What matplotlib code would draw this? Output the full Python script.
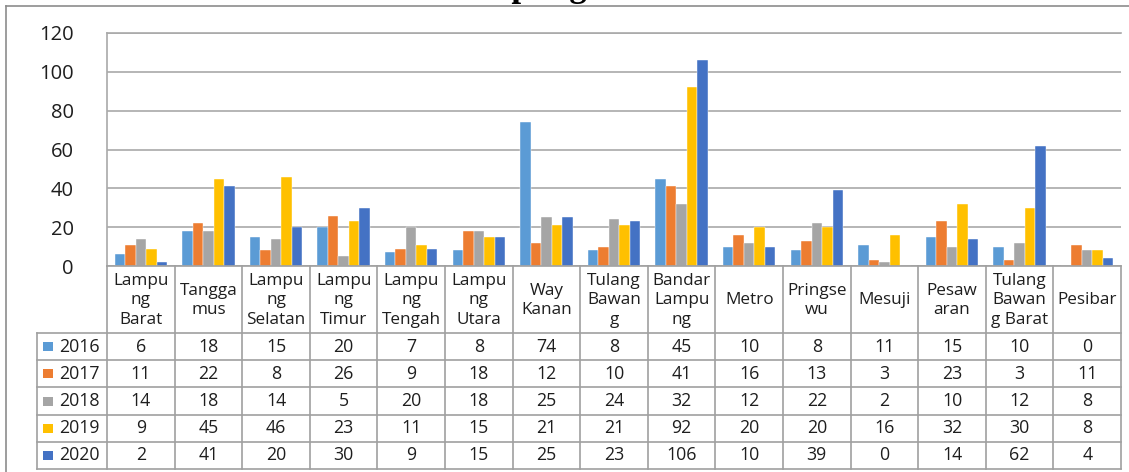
import matplotlib
matplotlib.use("Agg")
import matplotlib.pyplot as plt
from matplotlib.patches import Rectangle
from matplotlib.lines import Line2D

# --- data -----------------------------------------------------------------
regions = ["Lampung Barat", "Tanggamus", "Lampung Selatan", "Lampung Timur",
           "Lampung Tengah", "Lampung Utara", "Way Kanan", "Tulang Bawang",
           "Bandar Lampung", "Metro", "Pringsewu", "Mesuji", "Pesawaran",
           "Tulang Bawang Barat", "Pesibar"]
region_labels = ["Lampu\nng\nBarat", "Tangga\nmus", "Lampu\nng\nSelatan",
                 "Lampu\nng\nTimur", "Lampu\nng\nTengah", "Lampu\nng\nUtara",
                 "Way\nKanan", "Tulang\nBawan\ng", "Bandar\nLampu\nng", "Metro",
                 "Pringse\nwu", "Mesuji", "Pesaw\naran", "Tulang\nBawan\ng Barat",
                 "Pesibar"]
years = ["2016", "2017", "2018", "2019", "2020"]
v2016 = [6, 18, 15, 20, 7, 8, 74, 8, 45, 10, 8, 11, 15, 10, 0]
v2017 = [11, 22, 8, 26, 9, 18, 12, 10, 41, 16, 13, 3, 23, 3, 11]
v2018 = [14, 18, 14, 5, 20, 18, 25, 24, 32, 12, 22, 2, 10, 12, 8]
v2019 = [9, 45, 46, 23, 11, 15, 21, 21, 92, 20, 20, 16, 32, 30, 8]
v2020 = [2, 41, 20, 30, 9, 15, 25, 23, 106, 10, 39, 0, 14, 62, 4]
series = [v2016, v2017, v2018, v2019, v2020]
colors = ["#5B9BD5", "#ED7D31", "#A5A5A5", "#FFC000", "#4472C4"]
yticks = [0, 20, 40, 60, 80, 100, 120]
title = "Lampung"

# --- layout (pixels) --------------------------------------------------------
W, H, DPI = 1129, 472, 100
FONT = "Open Sans"
TXT = "#1E1E1E"
plot_left, plot_right = 107, 1121
plot_top, plot_bottom = 33, 266
table_left, table_bottom = 37, 469
header_h = 67
row_h = (table_bottom - plot_bottom - header_h) / len(years)
col_w = (plot_right - plot_left) / len(regions)
grid_c = "#A9A9A9"
line_c = "#A0A0A0"

fig = plt.figure(figsize=(W / DPI, H / DPI), dpi=DPI)
fig.patch.set_facecolor("white")

# outer chart frame
fig.add_artist(Line2D([6 / W, 6 / W], [0, 1 - 6 / H], transform=fig.transFigure,
                      color="#8C8C8C", lw=1.2))
fig.add_artist(Line2D([6 / W, 1], [1 - 6 / H, 1 - 6 / H], transform=fig.transFigure,
                      color="#8C8C8C", lw=1.2))

# title (sits above the top edge of the canvas, only descenders show)
fig.text(442 / W, 1 + 4 / H, title, fontsize=25, fontweight="bold",
         family="Liberation Serif", ha="left", va="baseline")

# --- bar chart --------------------------------------------------------------
ax = fig.add_axes([plot_left / W, 1 - plot_bottom / H,
                   (plot_right - plot_left) / W, (plot_bottom - plot_top) / H])
n = len(regions)
xs = list(range(n))
bw = 0.155
for k, (vals, c) in enumerate(zip(series, colors)):
    ax.bar([x + (k - 2) * bw for x in xs], vals, width=bw, color=c,
           edgecolor="white", linewidth=0.3, zorder=3)
ax.set_xlim(-0.5, n - 0.5)
ax.set_ylim(0, 120)
ax.set_yticks(yticks)
ax.set_yticklabels([str(t) for t in yticks], family=FONT, fontsize=14.5,
                   color=TXT)
ax.tick_params(axis="y", length=0, pad=24)
ax.set_xticks([])
ax.grid(axis="y", color=grid_c, lw=1.2, zorder=0)
for s in ["right", "bottom"]:
    ax.spines[s].set_visible(False)
for s in ["left", "top"]:
    ax.spines[s].set_color(grid_c)
    ax.spines[s].set_linewidth(1.2)

# --- data table -------------------------------------------------------------
tax = fig.add_axes([table_left / W, 1 - table_bottom / H,
                    (plot_right - table_left) / W, (table_bottom - plot_bottom) / H])
leg_w = (plot_left - table_left) / col_w
x0 = -0.5 - leg_w
total_h = table_bottom - plot_bottom
tax.set_xlim(x0, n - 0.5)
tax.set_ylim(total_h, 0)
tax.axis("off")

def px_to_x(px):
    return x0 + (px - table_left) / col_w

# horizontal lines
tax.plot([-0.5, n - 0.5], [0, 0], color=line_c, lw=1.2, clip_on=False)
for r in range(len(years) + 1):
    y = header_h + r * row_h
    tax.plot([x0, n - 0.5], [y, y], color=line_c, lw=1.2, clip_on=False)
# vertical lines
for j in range(n + 1):
    xv = -0.5 + j
    tax.plot([xv, xv], [0, total_h], color=line_c, lw=1.2, clip_on=False)
tax.plot([x0, x0], [header_h, total_h], color=line_c, lw=1.2, clip_on=False)

# header labels
for i, lab in enumerate(region_labels):
    tax.text(i, header_h / 2 + 1, lab, ha="center", va="center", family=FONT,
             fontsize=12.3, linespacing=1.3, color=TXT)

# rows with legend keys
for r, (yr, vals, c) in enumerate(zip(years, series, colors)):
    yc = header_h + (r + 0.5) * row_h
    tax.add_patch(Rectangle((px_to_x(43), yc - 4.5), 9.5 / col_w, 9,
                            facecolor=c, edgecolor="none", clip_on=False))
    tax.text(px_to_x(59), yc, yr, ha="left", va="center", family=FONT,
             fontsize=12.8, color=TXT)
    for i, v in enumerate(vals):
        tax.text(i, yc, str(v), ha="center", va="center", family=FONT,
                 fontsize=12.8, color=TXT)

fig.savefig("out.png", dpi=DPI)
